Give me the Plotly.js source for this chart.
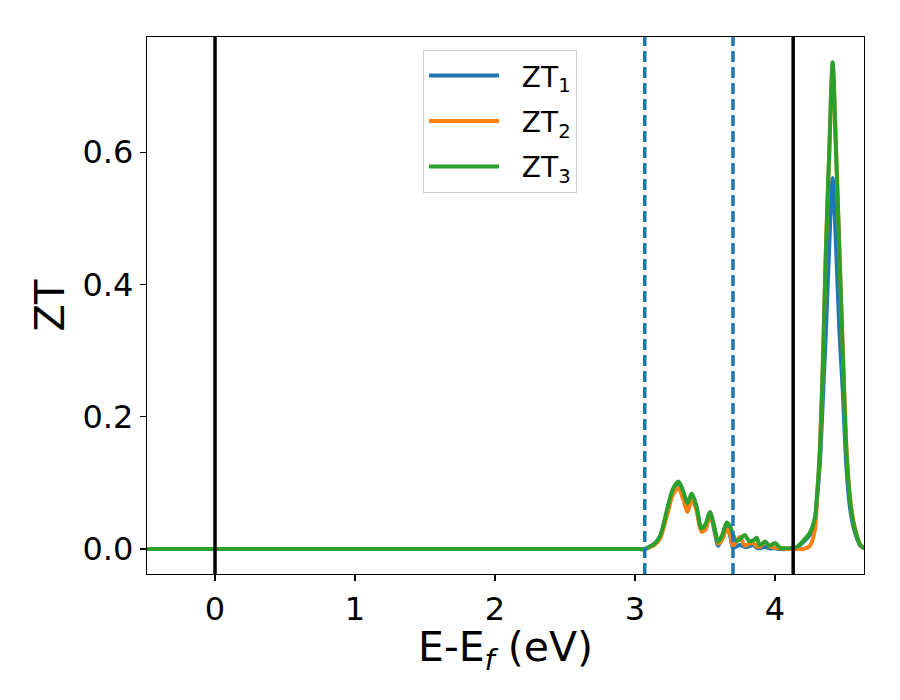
<!DOCTYPE html>
<html>
<head>
<meta charset="utf-8">
<script src="https://cdn.plot.ly/plotly-3.0.1.min.js"></script>
<style>html,body{margin:0;padding:0;background:#fff;}#chart{width:900px;height:700px;}</style>
</head>
<body>
<div id="chart"></div>
<script>
const energy = [-0.49, 3.0, 3.07, 3.10, 3.14, 3.18, 3.23, 3.27, 3.31, 3.345, 3.375, 3.405, 3.44, 3.475, 3.505, 3.535, 3.565, 3.595, 3.625, 3.655, 3.68, 3.70, 3.725, 3.75, 3.785, 3.815, 3.845, 3.87, 3.89, 3.93, 3.96, 4.0, 4.035, 4.09, 4.155, 4.2, 4.25, 4.286, 4.3, 4.321, 4.345, 4.364, 4.388, 4.412, 4.436, 4.46, 4.484, 4.51, 4.536, 4.56, 4.584, 4.61, 4.64];

const zt1 = [0, 0, 0, 0.003, 0.008, 0.019, 0.058, 0.088, 0.100, 0.085, 0.066, 0.082, 0.061, 0.028, 0.034, 0.054, 0.030, 0.005, 0.018, 0.036, 0.020, 0.002, 0.004, 0.006, 0.003, 0.004, 0.006, 0.002, 0.001, 0.003, 0.001, 0.001, 0.0, 0.0, 0.002, 0.010, 0.022, 0.045, 0.075, 0.130, 0.240, 0.330, 0.460, 0.561, 0.460, 0.330, 0.240, 0.125, 0.062, 0.034, 0.017, 0.005, 0.001];

const zt2 = [0, 0, 0, 0.002, 0.006, 0.016, 0.052, 0.082, 0.092, 0.075, 0.056, 0.075, 0.058, 0.026, 0.030, 0.052, 0.034, 0.008, 0.015, 0.030, 0.022, 0.004, 0.012, 0.018, 0.005, 0.008, 0.009, 0.004, 0.003, 0.011, 0.004, 0.002, 0.001, 0.0, 0.0, 0.0, 0.005, 0.030, 0.075, 0.150, 0.305, 0.455, 0.600, 0.730, 0.605, 0.455, 0.305, 0.155, 0.078, 0.042, 0.021, 0.006, 0.001];

const zt3 = [0, 0, 0, 0.003, 0.008, 0.020, 0.060, 0.090, 0.102, 0.087, 0.069, 0.084, 0.064, 0.031, 0.038, 0.056, 0.035, 0.011, 0.022, 0.040, 0.034, 0.022, 0.012, 0.015, 0.021, 0.012, 0.013, 0.017, 0.006, 0.011, 0.005, 0.009, 0.002, 0.001, 0.003, 0.012, 0.025, 0.048, 0.080, 0.150, 0.300, 0.452, 0.603, 0.736, 0.603, 0.452, 0.300, 0.150, 0.074, 0.040, 0.020, 0.006, 0.001];

const seriesNames = ['\u00a0\u00a0ZT<sub>1</sub>', '\u00a0\u00a0ZT<sub>2</sub>', '\u00a0\u00a0ZT<sub>3</sub>'];
const seriesColors = ['#1f77b4', '#ff7f0e', '#2ca02c'];
const blackLines = [0, 4.13];
const dashedLines = [3.07, 3.70];
const xTicks = [0, 1, 2, 3, 4];
const yTicks = [0, 0.2, 0.4, 0.6];
const xTitle = 'E-E<sub><i>f</i></sub> (eV)';
const yTitle = 'ZT';

const font = 'DejaVu Sans, sans-serif';
const traces = [zt1, zt2, zt3].map((y, i) => ({
  x: energy, y: y, type: 'scatter', mode: 'lines',
  name: seriesNames[i], legendgroup: 'g' + i,
  line: {color: seriesColors[i], width: 4, shape: 'spline', smoothing: 0.8}
}));

const shapes = [];
blackLines.forEach(v => shapes.push({type: 'line', xref: 'x', yref: 'paper', x0: v, x1: v, y0: 0, y1: 1, line: {color: '#000', width: 3.5}, layer: 'above'}));
dashedLines.forEach(v => shapes.push({type: 'line', xref: 'x', yref: 'paper', x0: v, x1: v, y0: 0, y1: 1, line: {color: '#1f77b4', width: 3.5, dash: '11px,5px'}, layer: 'above'}));

const layout = {
  width: 900, height: 700,
  margin: {l: 147, r: 36, t: 37, b: 126},
  paper_bgcolor: '#fff', plot_bgcolor: '#fff',
  font: {family: font, color: '#000', size: 32},
  showlegend: true,
  legend: {x: 0.385, y: 0.976, xanchor: 'left', yanchor: 'top', bgcolor: 'rgba(255,255,255,0.8)', bordercolor: '#cccccc', borderwidth: 1, itemwidth: 70, tracegroupgap: 6, font: {family: font, size: 28, color: '#000'}},
  xaxis: {
    range: [-0.486, 4.636], tickvals: xTicks, ticktext: xTicks.map(String),
    showgrid: false, zeroline: false, showline: true, linecolor: '#000', linewidth: 1.2, mirror: true,
    ticks: 'outside', ticklen: 6, tickwidth: 1.2, tickcolor: '#000',
    tickfont: {family: font, size: 32, color: '#000'}
  },
  yaxis: {
    range: [-0.0378, 0.774], tickvals: yTicks, ticktext: yTicks.map(v => v.toFixed(1)),
    showgrid: false, zeroline: false, showline: true, linecolor: '#000', linewidth: 1.2, mirror: true,
    ticks: 'outside', ticklen: 6, tickwidth: 1.2, tickcolor: '#000',
    tickfont: {family: font, size: 32, color: '#000'},
    title: {text: yTitle, font: {family: font, size: 40, color: '#000'}, standoff: 5}
  },
  annotations: [{
    text: xTitle, xref: 'paper', yref: 'paper', x: 0.5, y: -0.141, xanchor: 'center', yanchor: 'middle',
    showarrow: false, font: {family: font, size: 41, color: '#000'}
  }],
  shapes: shapes
};

Plotly.newPlot('chart', traces, layout, {staticPlot: true, displayModeBar: false});
</script>
</body>
</html>
